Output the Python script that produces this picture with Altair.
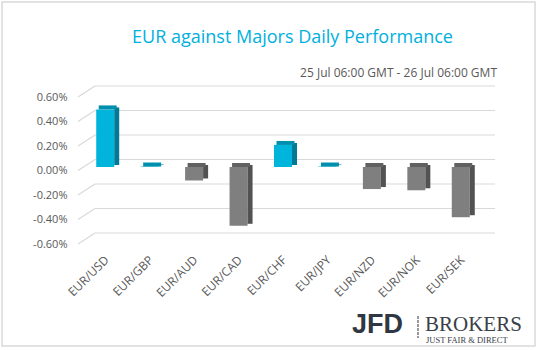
import altair as alt
import pandas as pd

pairs = ["EUR/USD", "EUR/GBP", "EUR/AUD", "EUR/CAD", "EUR/CHF",
         "EUR/JPY", "EUR/NZD", "EUR/NOK", "EUR/SEK"]
changes = [0.47, 0.004, -0.11, -0.48, 0.18, 0.004, -0.18, -0.19, -0.41]
y_ticks = [-0.6, -0.4, -0.2, 0.0, 0.2, 0.4, 0.6]

title_text = "EUR against Majors Daily Performance"
subtitle_text = "25 Jul 06:00 GMT - 26 Jul 06:00 GMT"

df = pd.DataFrame({"pair": pairs, "change": changes})
ticks_df = pd.DataFrame({"tick": y_ticks})

FONT = "Open Sans"
LABEL = "#595959"
GRID = "#D9D9D9"

pos = "datum.change >= 0"

x_axis = alt.Axis(title=None, labelAngle=-45, labelAlign="right", labelBaseline="top",
                  labelPadding=10, labelOffset=-3, domain=False, ticks=False,
                  labelFont=FONT, labelFontSize=12, labelColor=LABEL, grid=False)
y_axis = alt.Axis(title=None, values=y_ticks, domain=False, ticks=False, grid=False,
                  labelPadding=17, labelFont=FONT, labelFontSize=11, labelColor=LABEL,
                  labelExpr="replace(format(datum.value, '.2f'), '\u2212', '-') + '%'")
xscale = alt.Scale(paddingInner=0, paddingOuter=0)
yscale = alt.Scale(domain=[-0.6, 0.6], nice=False, zero=False)

def X():
    return alt.X("pair:N", sort=pairs, scale=xscale, axis=x_axis)

def Y(field):
    return alt.Y(field, scale=yscale, axis=y_axis)

base = alt.Chart(df).transform_calculate(top="max(datum.change, 0)", zero="0")

front = base.mark_bar(size=18, xOffset=-1, yOffset=-3.5, y2Offset=-3.5).encode(
    x=X(), y=Y("change:Q"), y2="zero:Q",
    color=alt.condition(pos, alt.value("#00B4DB"), alt.value("#7F7F7F")),
)
side = base.mark_bar(size=5, xOffset=10.5, yOffset=-5.5, y2Offset=-5.5).encode(
    x=X(), y=Y("change:Q"), y2="zero:Q",
    color=alt.condition(pos, alt.value("#007A95"), alt.value("#525252")),
)
topf = base.mark_bar(size=18, xOffset=1.5, yOffset=-7.5, y2Offset=-3.5).encode(
    x=X(), y=Y("top:Q"), y2="top:Q",
    color=alt.condition(pos, alt.value("#008FAD"), alt.value("#616161")),
)

tick_base = alt.Chart(ticks_df)
grid_h = tick_base.mark_rule(color=GRID, strokeWidth=1.2, yOffset=-11).encode(
    x=alt.value(11), x2=alt.value(411), y=Y("tick:Q"),
)
grid_d = tick_base.mark_rule(color=GRID, strokeWidth=1.2, y2Offset=-11).encode(
    x=alt.value(-6), x2=alt.value(11), y=Y("tick:Q"), y2="tick:Q",
)

def txt(s, x, y, **kw):
    return alt.Chart(pd.DataFrame({"t": [s]})).mark_text(**kw).encode(
        text="t:N", x=alt.value(x), y=alt.value(y))

title = txt(title_text, 208.5, -59, font=FONT, fontSize=18, color="#00B0DE",
            align="center", baseline="middle")
subtitle = txt(subtitle_text, 413, -24, font=FONT, fontSize=12, color=LABEL,
               align="right", baseline="middle")
logo_jfd = txt("JFD", 268, 236, font="Liberation Sans", fontSize=27, fontWeight="bold",
               color="#2F3842", align="left", baseline="alphabetic")
logo_brokers = txt("BROKERS", 341, 234, font="Liberation Serif", fontSize=21,
                   color="#3A4048", align="left", baseline="alphabetic")
logo_tag = txt("JUST FAIR & DIRECT", 342, 246, font="Liberation Serif", fontSize=8.5,
               color="#3A4048", align="left", baseline="alphabetic")
sep = alt.Chart(pd.DataFrame({"t": [0]})).mark_rule(color="#555555", strokeWidth=1.2,
                                                   strokeDash=[3, 1]).encode(
    x=alt.value(334), y=alt.value(219), y2=alt.value(241))
border = alt.Chart(pd.DataFrame({"t": [0]})).mark_rect(
    fillOpacity=0, stroke="#D9D9D9", strokeWidth=1.5).encode(
    x=alt.value(-82), x2=alt.value(451), y=alt.value(-95), y2=alt.value(249))

chart = alt.layer(
    border, grid_d, grid_h, front, side, topf,
    title, subtitle, logo_jfd, sep, logo_brokers, logo_tag,
).properties(
    width=400, height=147,
    autosize=alt.AutoSizeParams(type="none"),
    padding={"left": 84, "top": 97, "right": 54, "bottom": 106},
    background="white",
).configure_view(strokeWidth=0)

chart.save("out.html", embed_options={"renderer": "svg", "actions": False})
